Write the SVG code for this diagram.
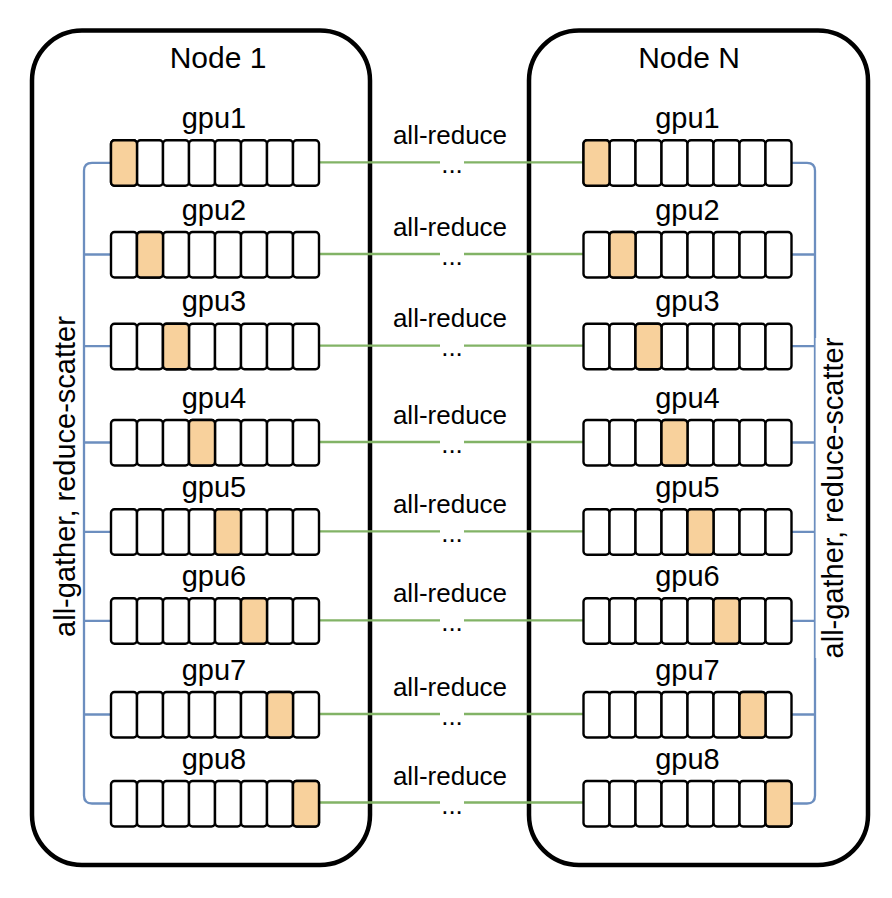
<svg xmlns="http://www.w3.org/2000/svg" width="892" height="898" viewBox="0 0 892 898">
<style>
text{font-family:"Liberation Sans",Arial,Helvetica,sans-serif;fill:#000}
.node{fill:none;stroke:#000;stroke-width:4.5}
.c{fill:#fff;stroke:#000;stroke-width:2.4}
.o{fill:#F8D19C;stroke:#000;stroke-width:2.4}
.g{stroke:#82B366;stroke-width:2.3;fill:none}
.b{stroke:#6C8EBF;stroke-width:2.3;fill:none}
.t{font-size:26px;text-anchor:middle}
.gl{font-size:29px;text-anchor:middle}
.nl{font-size:30px;text-anchor:middle}
.rl{font-size:29px;text-anchor:middle}
</style>
<defs>
<g id="cells">
<rect class="c" x="0" y="0" width="26" height="45.5" rx="3.5"/>
<rect class="c" x="26" y="0" width="26" height="45.5" rx="3.5"/>
<rect class="c" x="52" y="0" width="26" height="45.5" rx="3.5"/>
<rect class="c" x="78" y="0" width="26" height="45.5" rx="3.5"/>
<rect class="c" x="104" y="0" width="26" height="45.5" rx="3.5"/>
<rect class="c" x="130" y="0" width="26" height="45.5" rx="3.5"/>
<rect class="c" x="156" y="0" width="26" height="45.5" rx="3.5"/>
<rect class="c" x="182" y="0" width="26" height="45.5" rx="3.5"/>
</g>
</defs>

<g id="node1">
<rect class="node" x="32" y="30.5" width="338" height="834.5" rx="50"/>
<text class="nl" x="218" y="68">Node 1</text>
</g>
<g id="nodeN">
<rect class="node" x="529" y="30.5" width="339" height="834.5" rx="50"/>
<text class="nl" x="689" y="68">Node N</text>
</g>

<g id="connectors">
<path class="b" d="M110,162.8 H92 Q84,162.8 84,170.8 V795.5 Q84,803.5 92,803.5 H110 M84,254.5 H110 M84,346.2 H110 M84,442.5 H110 M84,531.8 H110 M84,620.8 H110 M84,714.5 H110"/>
<path class="b" d="M792,162.8 H807 Q815,162.8 815,170.8 V795.5 Q815,803.5 807,803.5 H792 M792,254.5 H815 M792,346.2 H815 M792,442.5 H815 M792,531.8 H815 M792,620.8 H815 M792,714.5 H815"/>
<path class="g" d="M319,162.3 H583 M319,254 H583 M319,345.7 H583 M319,442 H583 M319,531.3 H583 M319,620.3 H583 M319,714 H583 M319,802.5 H583"/>
<g fill="#fff">
<rect x="440" y="157" width="24" height="18"/>
<rect x="440" y="248.7" width="24" height="18"/>
<rect x="440" y="340.4" width="24" height="18"/>
<rect x="440" y="436.7" width="24" height="18"/>
<rect x="440" y="526" width="24" height="18"/>
<rect x="440" y="615" width="24" height="18"/>
<rect x="440" y="708.7" width="24" height="18"/>
<rect x="440" y="797.2" width="24" height="18"/>
</g>
<g class="t">
<text x="450" y="143.8">all-reduce</text><text x="452" y="172.8">...</text>
<text x="450" y="235.5">all-reduce</text><text x="452" y="264.5">...</text>
<text x="450" y="327.2">all-reduce</text><text x="452" y="356.2">...</text>
<text x="450" y="423.5">all-reduce</text><text x="452" y="452.5">...</text>
<text x="450" y="512.8">all-reduce</text><text x="452" y="541.8">...</text>
<text x="450" y="601.8">all-reduce</text><text x="452" y="630.8">...</text>
<text x="450" y="695.5">all-reduce</text><text x="452" y="724.5">...</text>
<text x="450" y="784.5">all-reduce</text><text x="452" y="813.5">...</text>
</g>
<text class="rl" transform="translate(74.5,476.5) rotate(-90)">all-gather, reduce-scatter</text>
<rect x="815.6" y="338" width="40" height="320" fill="#fff"/>
<text class="rl" transform="translate(843,498) rotate(-90)">all-gather, reduce-scatter</text>
</g>

<g id="gpus-node1">
<g id="n1-gpu1"><text class="gl" x="214" y="128">gpu1</text><use href="#cells" x="111" y="140.3"/><rect class="o" x="111" y="140.3" width="26" height="45.5" rx="3.5"/></g>
<g id="n1-gpu2"><text class="gl" x="214" y="219.5">gpu2</text><use href="#cells" x="111" y="232"/><rect class="o" x="137" y="232" width="26" height="45.5" rx="3.5"/></g>
<g id="n1-gpu3"><text class="gl" x="214" y="311.2">gpu3</text><use href="#cells" x="111" y="323.7"/><rect class="o" x="163" y="323.7" width="26" height="45.5" rx="3.5"/></g>
<g id="n1-gpu4"><text class="gl" x="214" y="407.5">gpu4</text><use href="#cells" x="111" y="420"/><rect class="o" x="189" y="420" width="26" height="45.5" rx="3.5"/></g>
<g id="n1-gpu5"><text class="gl" x="214" y="496.8">gpu5</text><use href="#cells" x="111" y="509.3"/><rect class="o" x="215" y="509.3" width="26" height="45.5" rx="3.5"/></g>
<g id="n1-gpu6"><text class="gl" x="214" y="585.8">gpu6</text><use href="#cells" x="111" y="598.3"/><rect class="o" x="241" y="598.3" width="26" height="45.5" rx="3.5"/></g>
<g id="n1-gpu7"><text class="gl" x="214" y="679.5">gpu7</text><use href="#cells" x="111" y="692"/><rect class="o" x="267" y="692" width="26" height="45.5" rx="3.5"/></g>
<g id="n1-gpu8"><text class="gl" x="214" y="768.5">gpu8</text><use href="#cells" x="111" y="781"/><rect class="o" x="293" y="781" width="26" height="45.5" rx="3.5"/></g>
</g>

<g id="gpus-nodeN">
<g id="nN-gpu1"><text class="gl" x="687.5" y="128">gpu1</text><use href="#cells" x="583.5" y="140.3"/><rect class="o" x="583.5" y="140.3" width="26" height="45.5" rx="3.5"/></g>
<g id="nN-gpu2"><text class="gl" x="687.5" y="219.5">gpu2</text><use href="#cells" x="583.5" y="232"/><rect class="o" x="609.5" y="232" width="26" height="45.5" rx="3.5"/></g>
<g id="nN-gpu3"><text class="gl" x="687.5" y="311.2">gpu3</text><use href="#cells" x="583.5" y="323.7"/><rect class="o" x="635.5" y="323.7" width="26" height="45.5" rx="3.5"/></g>
<g id="nN-gpu4"><text class="gl" x="687.5" y="407.5">gpu4</text><use href="#cells" x="583.5" y="420"/><rect class="o" x="661.5" y="420" width="26" height="45.5" rx="3.5"/></g>
<g id="nN-gpu5"><text class="gl" x="687.5" y="496.8">gpu5</text><use href="#cells" x="583.5" y="509.3"/><rect class="o" x="687.5" y="509.3" width="26" height="45.5" rx="3.5"/></g>
<g id="nN-gpu6"><text class="gl" x="687.5" y="585.8">gpu6</text><use href="#cells" x="583.5" y="598.3"/><rect class="o" x="713.5" y="598.3" width="26" height="45.5" rx="3.5"/></g>
<g id="nN-gpu7"><text class="gl" x="687.5" y="679.5">gpu7</text><use href="#cells" x="583.5" y="692"/><rect class="o" x="739.5" y="692" width="26" height="45.5" rx="3.5"/></g>
<g id="nN-gpu8"><text class="gl" x="687.5" y="768.5">gpu8</text><use href="#cells" x="583.5" y="781"/><rect class="o" x="765.5" y="781" width="26" height="45.5" rx="3.5"/></g>
</g>
</svg>
